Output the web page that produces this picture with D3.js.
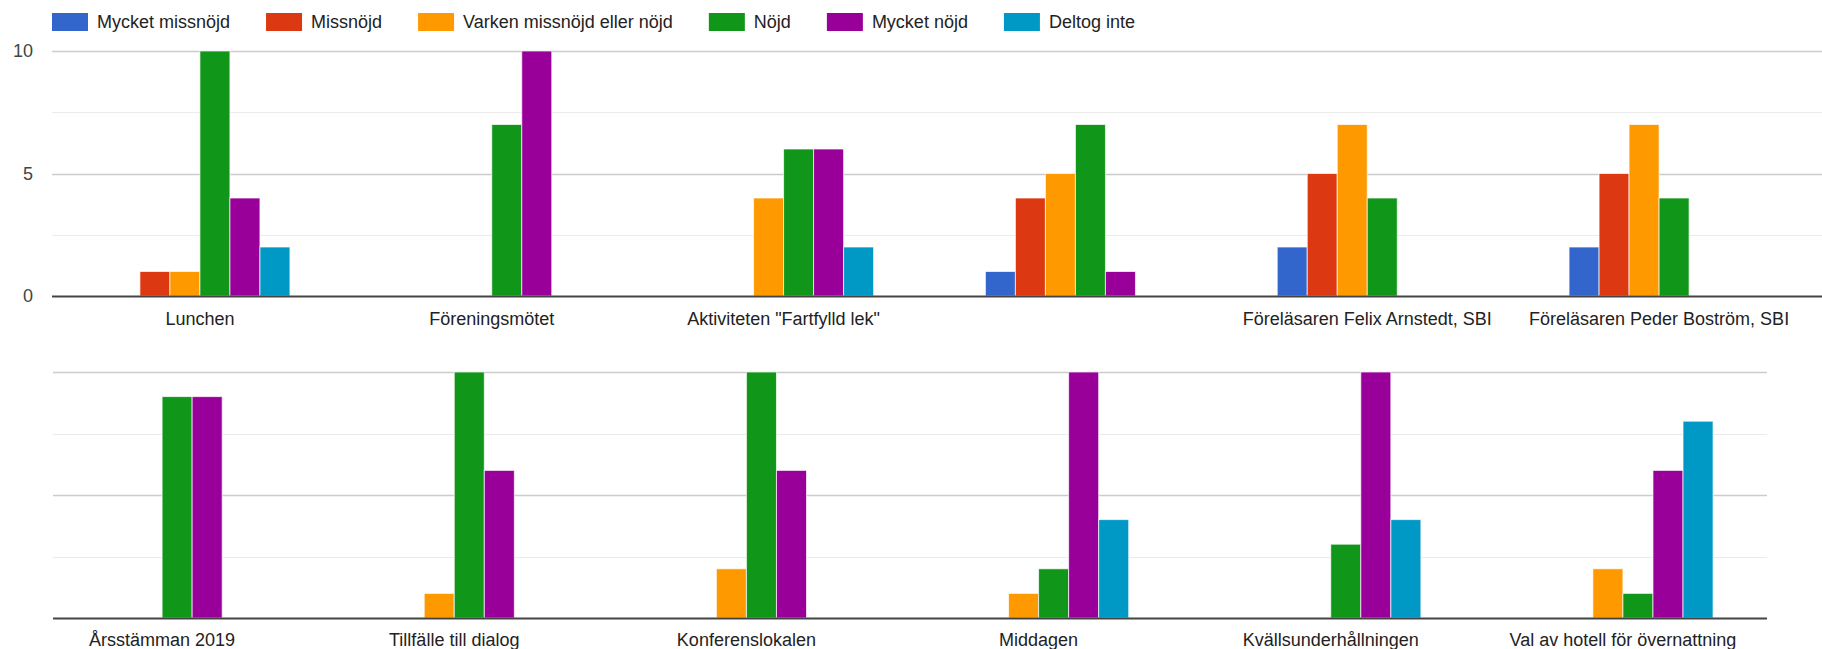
<!DOCTYPE html>
<html>
<head>
<meta charset="utf-8">
<script src="https://cdn.jsdelivr.net/npm/d3@7"></script>
<style>
  body { margin: 0; background: #fff; }
  svg { display: block; font-family: Arial, "Liberation Sans", sans-serif; }
</style>
</head>
<body>
<div id="chart"></div>
<script>
const width = 1822;
const height = 649;

const seriesNames = ["Mycket missnöjd", "Missnöjd", "Varken missnöjd eller nöjd", "Nöjd", "Mycket nöjd", "Deltog inte"];
const seriesColors = ["#3366cc", "#dc3912", "#ff9900", "#109618", "#990099", "#0099c6"];

// top panel
const topCategories = ["Lunchen", "Föreningsmötet", "Aktiviteten \"Fartfylld lek\"", "", "Föreläsaren Felix Arnstedt, SBI", "Föreläsaren Peder Boström, SBI"];
const topValues = [
    [0, 1, 1, 10, 4, 2],
    [0, 0, 0, 7, 10, 0],
    [0, 0, 4, 6, 6, 2],
    [1, 4, 5, 7, 1, 0],
    [2, 5, 7, 4, 0, 0],
    [2, 5, 7, 4, 0, 0]
];

// bottom panel
const bottomCategories = ["Årsstämman 2019", "Tillfälle till dialog", "Konferenslokalen", "Middagen", "Kvällsunderhållningen", "Val av hotell för övernattning"];
const bottomValues = [
    [0, 0, 0, 9, 9, 0],
    [0, 0, 1, 10, 6, 0],
    [0, 0, 2, 10, 6, 0],
    [0, 0, 1, 2, 10, 4],
    [0, 0, 0, 3, 10, 4],
    [0, 0, 2, 1, 6, 8]
];

const gridTicks = [0, 2.5, 5, 7.5, 10];
const labelTicks = [0, 5, 10];

const svg = d3.select("#chart").append("svg")
    .attr("width", width)
    .attr("height", height);

// legend
const legend = svg.append("g").attr("class", "legend");
let lx = 52;
seriesNames.forEach((name, i) => {
    legend.append("rect")
        .attr("x", lx).attr("y", 13)
        .attr("width", 36).attr("height", 18)
        .attr("fill", seriesColors[i]);
    const t = legend.append("text")
        .attr("x", lx + 45).attr("y", 28)
        .attr("font-size", 18)
        .attr("fill", "#222")
        .text(name);
    lx += 45 + t.node().getComputedTextLength() + 36;
});

function drawPanel(cats, values, opt) {
    const g = svg.append("g");
    const x0 = d3.scaleBand().domain(cats.map((c, i) => i))
        .range(opt.bandRange)
        .paddingInner(0.383).paddingOuter(0.1915);
    const x1 = d3.scaleBand().domain(seriesNames).range([0, x0.bandwidth()]);
    const y = d3.scaleLinear().domain([0, 10]).range([opt.bottom, opt.top]);

    // gridlines
    g.append("g").selectAll("line")
        .data(gridTicks.filter(d => d > 0))
        .enter().append("line")
        .attr("x1", opt.plotLeft).attr("x2", opt.plotRight)
        .attr("y1", d => Math.round(y(d)) + 0.5).attr("y2", d => Math.round(y(d)) + 0.5)
        .attr("stroke", d => d % 5 === 0 ? "#cccccc" : "#ebebeb")
        .attr("stroke-width", d => d % 5 === 0 ? 1.5 : 1.2);

    if (opt.yLabels) {
        const axis = d3.axisLeft(y).tickValues(labelTicks).tickSize(0).tickPadding(0).tickFormat(d3.format("d"));
        const ag = g.append("g").attr("transform", `translate(${opt.plotLeft - 19},0)`).call(axis);
        ag.select(".domain").remove();
        ag.selectAll("text").attr("font-size", 18).attr("fill", "#444").attr("font-family", "Arial, 'Liberation Sans', sans-serif");
    }

    // bars
    const groups = g.append("g").selectAll("g")
        .data(values)
        .enter().append("g")
        .attr("transform", (d, i) => `translate(${x0(i)},0)`);
    groups.selectAll("rect")
        .data(d => d.map((v, j) => ({ v, s: seriesNames[j], c: seriesColors[j] })).filter(e => e.v > 0))
        .enter().append("rect")
        .attr("x", d => x1(d.s))
        .attr("y", d => y(d.v))
        .attr("width", x1.bandwidth())
        .attr("height", d => y(0) - y(d.v))
        .attr("fill", d => d.c)
        .attr("stroke", "#fff")
        .attr("stroke-opacity", 0.7)
        .attr("stroke-width", 1);

    // baseline
    g.append("line")
        .attr("x1", opt.plotLeft).attr("x2", opt.plotRight)
        .attr("y1", y(0) + 0.5).attr("y2", y(0) + 0.5)
        .attr("stroke", "#444").attr("stroke-width", 2);

    // category labels
    g.append("g").selectAll("text")
        .data(cats)
        .enter().append("text")
        .attr("x", (d, i) => x0(i) + x0.bandwidth() / 2)
        .attr("y", opt.labelY)
        .attr("text-anchor", "middle")
        .attr("font-size", 18)
        .attr("fill", "#222")
        .text(d => d);
}

drawPanel(topCategories, topValues, {
    bandRange: [54, 1805],
    top: 51, bottom: 296,
    plotLeft: 52, plotRight: 1822,
    labelY: 325,
    yLabels: true
});

drawPanel(bottomCategories, bottomValues, {
    bandRange: [16, 1769],
    top: 372, bottom: 618,
    plotLeft: 53, plotRight: 1767,
    labelY: 646,
    yLabels: false
});
</script>
</body>
</html>
